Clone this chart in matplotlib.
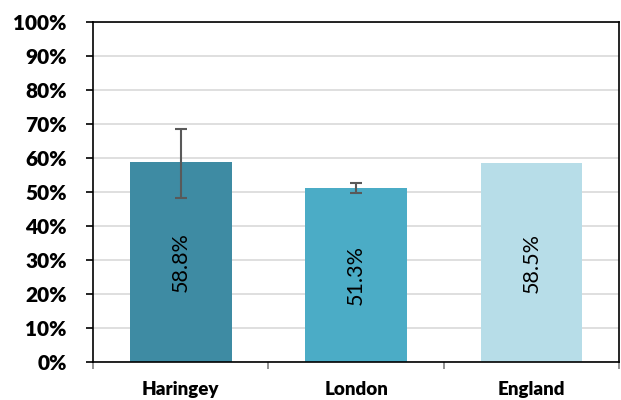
import matplotlib
matplotlib.use("Agg")
import matplotlib.pyplot as plt
from matplotlib.ticker import FixedLocator, PercentFormatter

categories = ["Haringey", "London", "England"]
values = [58.8, 51.3, 58.5]
err_low = [48.1, 49.8, None]
err_high = [68.6, 52.6, None]
colors = ["#3E8BA3", "#4BACC6", "#B7DDE8"]
labels = ["58.8%", "51.3%", "58.5%"]

fig = plt.figure(figsize=(6.21, 4.0), dpi=100)
ax = fig.add_axes([0.150, 0.095, 0.847, 0.850])

x = list(range(len(categories)))
ax.bar(x, values, width=0.58, color=colors, zorder=2)

for i, (lo, hi) in enumerate(zip(err_low, err_high)):
    if lo is None:
        continue
    ax.errorbar([i], [values[i]], yerr=[[values[i] - lo], [hi - values[i]]],
                fmt="none", ecolor="#595959", elinewidth=1.5, capsize=4.5,
                capthick=1.5, zorder=3)

for i, v in enumerate(values):
    ax.text(i, v / 2, labels[i], rotation=90, ha="center", va="center",
            fontsize=15.5, family="Lato", color="black", zorder=4)

ax.set_xlim(-0.5, 2.5)
ax.set_ylim(0, 100)
ax.set_yticks(range(0, 101, 10))
ax.yaxis.set_major_formatter(PercentFormatter(decimals=0))
ax.grid(axis="y", color="#D9D9D9", linewidth=1.2, zorder=0)
ax.set_axisbelow(True)

ax.set_xticks(x)
ax.set_xticklabels(categories)
ax.xaxis.set_minor_locator(FixedLocator([-0.5, 0.5, 1.5, 2.5]))
ax.tick_params(axis="x", which="major", length=0, pad=14)
ax.tick_params(axis="x", which="minor", length=5, color="#808080", width=1.2)
ax.tick_params(axis="y", length=5, width=1.2, color="black", pad=14)

for lab in ax.get_xticklabels():
    lab.set_family("Lato"); lab.set_fontweight("heavy"); lab.set_fontsize(13.5)
for lab in ax.get_yticklabels():
    lab.set_family("Lato"); lab.set_fontweight("heavy"); lab.set_fontsize(15)

for s in ax.spines.values():
    s.set_color("black")
    s.set_linewidth(1.2)

fig.savefig("out.png", dpi=100)
